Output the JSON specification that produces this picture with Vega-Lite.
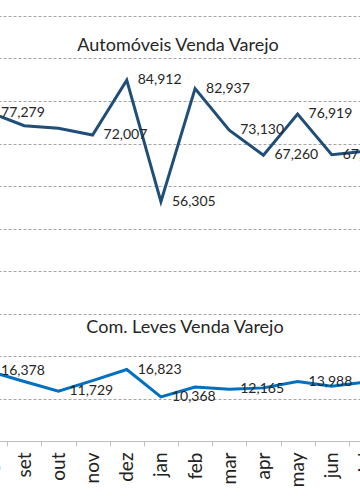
{
  "$schema": "https://vega.github.io/schema/vega-lite/v6.json",
  "width": 410,
  "height": 425,
  "autosize": {"type": "none"},
  "padding": {"left": -27, "top": 16, "right": -23, "bottom": 63},
  "background": "white",
  "config": {"view": {"stroke": null}, "font": "Lato"},
  "data": {
    "values": [
      {"month": "ago", "series": "Automóveis", "value": 77279, "labeled": true},
      {"month": "set", "series": "Automóveis", "value": 74200, "labeled": false},
      {"month": "out", "series": "Automóveis", "value": 73600, "labeled": false},
      {"month": "nov", "series": "Automóveis", "value": 72007, "labeled": true},
      {"month": "dez", "series": "Automóveis", "value": 84912, "labeled": true},
      {"month": "jan", "series": "Automóveis", "value": 56305, "labeled": true},
      {"month": "feb", "series": "Automóveis", "value": 82937, "labeled": true},
      {"month": "mar", "series": "Automóveis", "value": 73130, "labeled": true},
      {"month": "apr", "series": "Automóveis", "value": 67260, "labeled": true},
      {"month": "may", "series": "Automóveis", "value": 76919, "labeled": true},
      {"month": "jun", "series": "Automóveis", "value": 67350, "labeled": true},
      {"month": "jul", "series": "Automóveis", "value": 68200, "labeled": false},
      {"month": "ago", "series": "Com. Leves", "value": 16378, "labeled": true},
      {"month": "set", "series": "Com. Leves", "value": 14000, "labeled": false},
      {"month": "out", "series": "Com. Leves", "value": 11729, "labeled": true},
      {"month": "nov", "series": "Com. Leves", "value": 14200, "labeled": false},
      {"month": "dez", "series": "Com. Leves", "value": 16823, "labeled": true},
      {"month": "jan", "series": "Com. Leves", "value": 10368, "labeled": true},
      {"month": "feb", "series": "Com. Leves", "value": 12700, "labeled": false},
      {"month": "mar", "series": "Com. Leves", "value": 12165, "labeled": true},
      {"month": "apr", "series": "Com. Leves", "value": 12500, "labeled": false},
      {"month": "may", "series": "Com. Leves", "value": 13988, "labeled": true},
      {"month": "jun", "series": "Com. Leves", "value": 12900, "labeled": false},
      {"month": "jul", "series": "Com. Leves", "value": 13900, "labeled": false}
    ]
  },
  "layer": [
    {
      "mark": {"type": "line", "strokeWidth": 3, "clip": true},
      "encoding": {
        "x": {
          "field": "month",
          "type": "ordinal",
          "sort": ["ago", "set", "out", "nov", "dez", "jan", "feb", "mar", "apr", "may", "jun", "jul"],
          "scale": {"type": "band", "paddingInner": 0, "paddingOuter": 0},
          "axis": {
            "title": null,
            "labelAngle": -90,
            "labelFontSize": 19,
            "labelColor": "#222222",
            "labelPadding": 6,
            "tickSize": 5,
            "tickBand": "extent",
            "tickColor": "#bfbfbf",
            "domainColor": "#bfbfbf",
            "domainWidth": 1,
            "grid": false
          }
        },
        "y": {
          "field": "value",
          "type": "quantitative",
          "scale": {"domain": [0, 100000], "nice": false},
          "axis": {
            "title": null,
            "labels": false,
            "ticks": false,
            "domain": false,
            "values": [10000, 20000, 30000, 40000, 50000, 60000, 70000, 80000, 90000, 100000],
            "gridColor": "#a6a6a6",
            "gridDash": [3, 2],
            "gridWidth": 1
          }
        },
        "color": {
          "field": "series",
          "type": "nominal",
          "scale": {"domain": ["Automóveis", "Com. Leves"], "range": ["#1f4e79", "#0070c0"]},
          "legend": null
        }
      }
    },
    {
      "transform": [{"filter": "datum.labeled"}],
      "mark": {"type": "text", "align": "left", "baseline": "middle", "dx": 11, "fontSize": 14, "color": "#262626"},
      "encoding": {
        "x": {"field": "month", "type": "ordinal", "sort": ["ago", "set", "out", "nov", "dez", "jan", "feb", "mar", "apr", "may", "jun", "jul"]},
        "y": {"field": "value", "type": "quantitative"},
        "text": {"field": "value", "type": "quantitative", "format": ","}
      }
    },
    {
      "data": {"values": [{"t": "Automóveis Venda Varejo"}]},
      "mark": {"type": "text", "align": "center", "baseline": "middle", "fontSize": 18, "color": "#262626"},
      "encoding": {
        "y": {"datum": 92900, "type": "quantitative"},
        "text": {"field": "t"}
      }
    },
    {
      "data": {"values": [{"t": "Com. Leves Venda Varejo"}]},
      "mark": {"type": "text", "align": "center", "baseline": "middle", "dx": 7, "fontSize": 18, "color": "#262626"},
      "encoding": {
        "y": {"datum": 26600, "type": "quantitative"},
        "text": {"field": "t"}
      }
    }
  ]
}
